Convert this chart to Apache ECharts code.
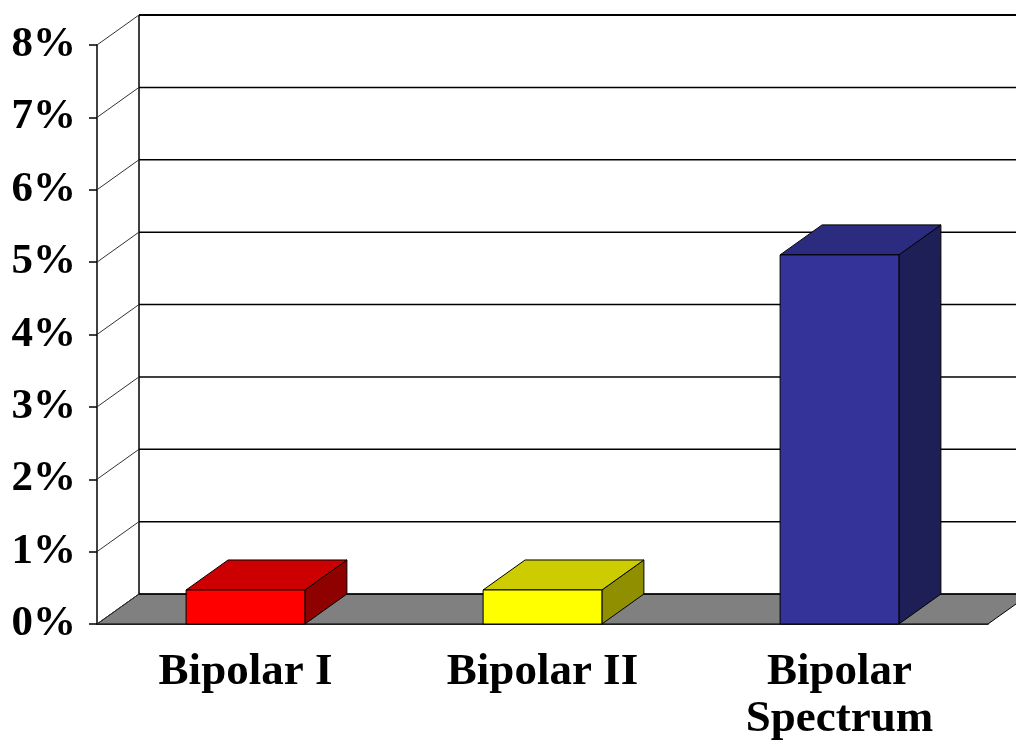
<!DOCTYPE html>
<html>
<head>
<meta charset="utf-8">
<title>Bipolar prevalence</title>
<script src="https://cdn.jsdelivr.net/npm/echarts@6/dist/echarts.min.js"></script>
<style>
  html, body { margin: 0; padding: 0; background: #fff; }
  #chart { width: 1016px; height: 747px; }
</style>
</head>
<body>
<div id="chart"></div>
<script>
// data
const categories = ['Bipolar I', 'Bipolar II', 'Bipolar\nSpectrum'];
const values = [0.47, 0.47, 5.1];
const yTicks = [0, 1, 2, 3, 4, 5, 6, 7, 8];

// 3d look
const faceColors = ['#ff0000', '#ffff00', '#333399'];
const topColors = ['#cc0000', '#cccc00', '#2b2b80'];
const sideColors = ['#8f0000', '#8f8f00', '#1f1f58'];
const DX = 42, DY = -30;
const FONT = "'Liberation Serif', 'Times New Roman', serif";

const chart = echarts.init(document.getElementById('chart'));

// back wall, left wall and floor
function renderWalls(params, api) {
  const cs = params.coordSys;
  const v = api.value(0);
  const y = api.coord([0, v])[1];
  const left = cs.x, right = cs.x + cs.width;
  const children = [];
  if (v === 0) {
    children.push({
      type: 'polygon',
      shape: {points: [[left, y], [right, y], [right + DX, y + DY], [left + DX, y + DY]]},
      style: {fill: '#808080', stroke: '#000', lineWidth: 1}
    });
    const yTop = api.coord([0, yTicks[yTicks.length - 1]])[1];
    children.push({
      type: 'line',
      shape: {x1: left + DX, y1: y + DY, x2: left + DX, y2: yTop + DY},
      style: {stroke: '#000', lineWidth: 1.5}
    });
  }
  children.push({
    type: 'line',
    shape: {x1: left + DX, y1: y + DY, x2: right + DX, y2: y + DY},
    style: {stroke: '#000', lineWidth: v === 8 ? 2 : 1.5}
  });
  children.push({
    type: 'line',
    shape: {x1: left, y1: y, x2: left + DX, y2: y + DY},
    style: {stroke: '#333', lineWidth: 1}
  });
  return {type: 'group', children: children};
}

function renderBar(params, api) {
  const i = api.value(0);
  const p0 = api.coord([i, 0]);
  const p1 = api.coord([i, api.value(1)]);
  const w = api.size([1, 0])[0] * 0.4;
  const x0 = p0[0] - w / 2, x1 = p0[0] + w / 2;
  const y0 = p0[1], y1 = p1[1];
  const edge = {stroke: '#000', lineWidth: 1};
  return {
    type: 'group',
    children: [
      {
        type: 'polygon',
        shape: {points: [[x1, y0], [x1 + DX, y0 + DY], [x1 + DX, y1 + DY], [x1, y1]]},
        style: Object.assign({fill: sideColors[i]}, edge)
      },
      {
        type: 'polygon',
        shape: {points: [[x0, y1], [x1, y1], [x1 + DX, y1 + DY], [x0 + DX, y1 + DY]]},
        style: Object.assign({fill: topColors[i]}, edge)
      },
      {
        type: 'rect',
        shape: {x: x0, y: y1, width: w, height: y0 - y1},
        style: Object.assign({fill: faceColors[i]}, edge)
      }
    ]
  };
}

chart.setOption({
  backgroundColor: '#fff',
  animation: false,
  grid: {left: 97, right: 28, top: 45, bottom: 123},
  xAxis: {
    type: 'category',
    data: categories,
    axisLine: {lineStyle: {color: '#000', width: 1.5}},
    axisTick: {length: 9, lineStyle: {color: '#000', width: 1.5}},
    axisLabel: {
      color: '#000',
      fontFamily: FONT,
      fontWeight: 'bold',
      fontSize: 45,
      lineHeight: 47,
      margin: 25,
      interval: 0
    }
  },
  yAxis: {
    type: 'value',
    min: 0,
    max: 8,
    interval: 1,
    axisLine: {show: true, lineStyle: {color: '#000', width: 1.5}},
    axisTick: {show: true, length: 8, lineStyle: {color: '#000', width: 1.5}},
    splitLine: {show: false},
    axisLabel: {
      color: '#000',
      fontFamily: FONT,
      fontWeight: 'bold',
      fontSize: 43,
      margin: 21,
      formatter: '{value}%'
    }
  },
  series: [
    {
      type: 'custom',
      z: 1,
      silent: true,
      renderItem: renderWalls,
      data: yTicks.map(v => [v])
    },
    {
      type: 'custom',
      z: 3,
      renderItem: renderBar,
      data: values.map((v, i) => [i, v])
    }
  ]
});
</script>
</body>
</html>
